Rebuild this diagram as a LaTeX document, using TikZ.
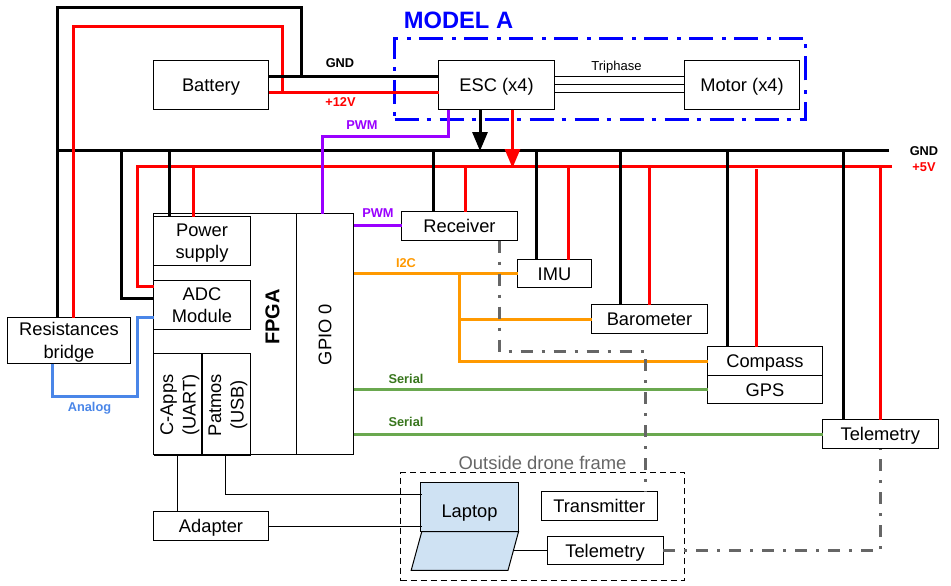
\documentclass[tikz,border=0pt]{standalone}
\usepackage{fontspec}
\setmainfont{Liberation Sans}
\usetikzlibrary{arrows.meta}
\definecolor{pwmc}{HTML}{9900FF}
\definecolor{i2cc}{HTML}{FF9900}
\definecolor{serc}{HTML}{6AA84F}
\definecolor{sert}{HTML}{38761D}
\definecolor{anac}{HTML}{4A86E8}
\definecolor{grayl}{HTML}{666666}
\definecolor{lapc}{HTML}{CFE2F3}
\definecolor{modelc}{HTML}{0000FF}
\newcommand\bx[6]{\node[box,minimum width={#4-#2},minimum height={#5-#3}] (#1) at ({(#2+#4)/2},{(#3+#5)/2}) {\raisebox{-2.2pt}[\height][\depth]{\begin{tabular}{@{}c@{}}#6\end{tabular}}};}
\tikzset{
  box/.style={draw=black,line width=1pt,inner sep=0pt,outer sep=0pt,font=\fontsize{18.3}{22.4}\selectfont},
  thinw/.style={draw=black,line width=1pt},
  gndw/.style={draw=black,line width=3pt},
  redw/.style={draw=red,line width=3pt},
  pwmw/.style={draw=pwmc,line width=3pt},
  i2cw/.style={draw=i2cc,line width=3pt},
  serw/.style={draw=serc,line width=3pt},
  anaw/.style={draw=anac,line width=3pt},
  rfw/.style={draw=grayl,line width=3pt,dash pattern=on 12pt off 9pt on 3pt off 9pt},
  lab/.style={inner sep=0pt,font=\fontsize{12.8}{14}\selectfont\bfseries},
}
\begin{document}
\begin{tikzpicture}[x=1pt,y=-1pt]
\useasboundingbox (0,0) rectangle (951,586);
% rails and routing points
\coordinate (gbusL) at (57.5,150.5);
\coordinate (gbusR) at (889,150.5);
\coordinate (rbusL) at (137.5,166.5);
\coordinate (rbusR) at (892,166.5);
\coordinate (gy) at (0,76.5);
\coordinate (ry) at (0,92.5);
\coordinate (gtop) at (301.5,7.5);
\coordinate (rtop) at (282.5,26.5);
\coordinate (ltop) at (73.5,26.5);
\coordinate (pwmA) at (448.5,136.5);
\coordinate (pwmB) at (322.5,136.5);
\coordinate (adcR) at (137.5,286.5);
\coordinate (adcG) at (121.5,298.5);
\coordinate (anaA) at (52,396.5);
\coordinate (anaB) at (137.5,396.5);
\coordinate (anaC) at (137.5,317.5);
\coordinate (i2cJ) at (459.5,273.5);
\coordinate (baroJ) at (459.5,319.5);
\coordinate (compJ) at (459.5,361.5);
\coordinate (rfA) at (499.5,351.5);
\coordinate (rfB) at (645,351.5);
\coordinate (rfC) at (880.5,550.5);
\coordinate (usbJ) at (225.5,494.5);
\coordinate (usbE) at (421.5,494.5);
\coordinate (adaE) at (421.5,526.5);
\coordinate (baseE) at (514,550.5);
% dashed model frame
\node[draw=modelc,line width=3pt,dash pattern=on 24pt off 8pt on 4pt off 9pt,inner sep=0pt,outer sep=0pt,minimum width=411,minimum height=81] (model) at (600,79) {};
\node[inner sep=0pt,text=modelc,font=\fontsize{23.7}{25}\selectfont\bfseries] (modelt) at (458.5,20) {MODEL A};
% outside frame and laptop
\node[draw=black,line width=1pt,dash pattern=on 6pt off 4pt,inner sep=0pt,outer sep=0pt,minimum width=283.5,minimum height=108] (frame) at (542.25,526.5) {};
\node[inner sep=0pt,anchor=base,text=grayl,font=\fontsize{18.4}{20}\selectfont] (framet) at (542.5,469.5) {Outside drone frame};
\node[draw=black,fill=lapc,line width=1pt,inner sep=0pt,outer sep=0pt,minimum width=98,minimum height=49] (laptop) at (469.5,507) {};
\node[inner sep=0pt,anchor=base,font=\fontsize{18.3}{20}\selectfont] (laptopt) at (469.5,517.3) {Laptop};
\path[draw=black,fill=lapc,line width=1pt] (421.8,531.5) coordinate (kbA) -- (518.6,531.5) coordinate (kbB) -- (508,570.3) coordinate (kbC) -- (411.2,570.3) coordinate (kbD) -- cycle;
% boxes
\bx{batt}{153.5}{60.5}{268.5}{109.5}{Battery}
\bx{esc}{438.5}{60.5}{554.5}{109.5}{ESC (x4)}
\bx{motor}{684.5}{60.5}{799.5}{109.5}{Motor (x4)}
\bx{fpga}{153.5}{213.5}{353.5}{454.5}{}
\bx{gpio}{296.5}{213.5}{353.5}{454.5}{}
\bx{power}{153.5}{216.5}{250.5}{265.5}{Power\\supply}
\bx{adc}{153.5}{280.5}{250.5}{329.5}{ADC\\Module}
\bx{res}{7.5}{317.5}{130.5}{363.5}{Resistances\\bridge}
\bx{capps}{153.5}{353.5}{202}{454.5}{}
\bx{patmos}{202}{353.5}{250.5}{454.5}{}
\bx{recv}{401.5}{211.5}{517.5}{240.5}{Receiver}
\bx{imu}{517.5}{259.5}{591.5}{287.5}{IMU}
\bx{baro}{591.5}{304.5}{707.5}{333.5}{Barometer}
\bx{comp}{707.5}{346.5}{822.5}{375.5}{Compass}
\bx{gps}{707.5}{375.5}{822.5}{403.5}{GPS}
\bx{tele}{822.5}{419.5}{938}{448.5}{Telemetry}
\bx{adapter}{153.5}{511.5}{268.5}{540.5}{Adapter}
\bx{trans}{541}{491.5}{657.5}{520.5}{Transmitter}
\bx{tele2}{547}{536.5}{663}{564.5}{Telemetry}
\draw[line width=2pt] (capps.north east) -- (capps.south east);
\draw[line width=2pt] (capps.south west) -- (patmos.south east);
% rotated labels
\node[inner sep=0pt,rotate=90,font=\fontsize{20}{22}\selectfont\bfseries] (fpgat) at (272.5,317) {FPGA};
\node[inner sep=0pt,rotate=90,font=\fontsize{18.3}{20}\selectfont] (gpiot) at (325,334.5) {GPIO 0};
\node[inner sep=0pt,rotate=90,align=center,font=\fontsize{18.3}{22.5}\selectfont] (cappst) at (180,405) {C-Apps\\(UART)};
\node[inner sep=0pt,rotate=90,align=center,font=\fontsize{18.3}{22.5}\selectfont] (patmost) at (228,405) {Patmos\\(USB)};
% triphase
\draw[thinw] (esc.east |- gy) -- (motor.west |- gy);
\draw[thinw] (esc.east) -- (motor.west);
\draw[thinw] (esc.east |- ry) -- (motor.west |- ry);
% thin links
\draw[thinw] (capps.south -| 177.5,0) -- (adapter.north -| 177.5,0);
\draw[thinw] (patmos.south -| usbJ) -- (usbJ) -- (usbE);
\draw[thinw] (adapter.east |- adaE) -- (adaE);
\draw[thinw] (baseE) -- (tele2.west |- baseE);
% +5V and 12V under ground
\draw[redw] (rbusR) -- (rbusL) -- (adcR) -- (adc.west |- adcR);
\draw[redw] (batt.east |- ry) -- (esc.west |- ry);
\draw[redw] (rtop |- ry) -- (rtop) -- (ltop) -- (res.north -| ltop);
\foreach \nn/\xx/\yy in {power/193.5/166.5,recv/465.5/166.5,imu/568.5/166.5,baro/649.5/166.5,comp/756.5/169,tele/880.5/166.5}
  \draw[redw] (\xx,\yy) -- (\nn.north -| \xx,0);
% ground
\draw[gndw] (gbusR) -- (gbusL);
\draw[gndw] (batt.east |- gy) -- (esc.west |- gy);
\draw[gndw] (gtop |- gy) -- (gtop) -- (57.5,7.5) coordinate (gcorner) -- (res.north -| gcorner);
\draw[gndw] (121.5,149) -- (adcG) -- (adc.west |- adcG);
\foreach \nn/\xx in {power/169.5,recv/433.5,imu/536.5,baro/620.5,comp/727.5,tele/843.5}
  \draw[gndw] (\xx,150.5) -- (\nn.north -| \xx,0);
\draw[redw] (73.5,140) -- (73.5,160);
\draw[gndw,-{Triangle[width=15pt,length=19pt]}] (esc.south -| 480,0) -- (480,151);
\draw[redw,-{Triangle[width=15pt,length=19pt]}] (esc.south -| 512.5,0) -- (512.5,168);
% signals
\draw[pwmw] (esc.south -| pwmA) -- (pwmA) -- (pwmB) -- (fpga.north -| pwmB);
\draw[pwmw] (fpga.east |- 0,225.5) -- (recv.west |- 0,225.5);
\draw[i2cw] (fpga.east |- i2cJ) -- (imu.west |- i2cJ);
\draw[i2cw] (i2cJ) -- (compJ) -- (comp.west |- compJ);
\draw[i2cw] (baroJ) -- (baro.west |- baroJ);
\draw[serw] (fpga.east |- 0,389.5) -- (gps.west |- 0,389.5);
\draw[serw] (fpga.east |- 0,434.5) -- (tele.west |- 0,434.5);
\draw[anaw] (res.south -| anaA) -- (anaA) -- (anaB) -- (anaC) -- (adc.west |- anaC);
\draw[rfw] (recv.south -| rfA) -- (rfA) -- (rfB) -- (trans.north -| rfB);
\draw[rfw] (tele2.east |- rfC) -- (rfC) -- (tele.south -| rfC);
% labels
\node[lab] (lgnd) at (340,63) {GND};
\node[lab,text=red] (l12) at (340.5,102.5) {+12V};
\node[lab,text=pwmc] (lpwm1) at (362,125) {PWM};
\node[lab,text=pwmc] (lpwm2) at (378,213) {PWM};
\node[lab,text=i2cc] (li2c) at (406,263) {I2C};
\node[lab,text=sert] (ls1) at (406,379) {Serial};
\node[lab,text=sert] (ls2) at (406,422) {Serial};
\node[lab,text=anac] (lana) at (89.5,408.5) {Analog};
\node[lab] (lg5) at (924,151) {GND};
\node[lab,text=red] (l5) at (924,167) {+5V};
\node[inner sep=0pt,font=\fontsize{13}{14}\selectfont] (ltri) at (616.5,67) {Triphase};
\end{tikzpicture}
\end{document}
